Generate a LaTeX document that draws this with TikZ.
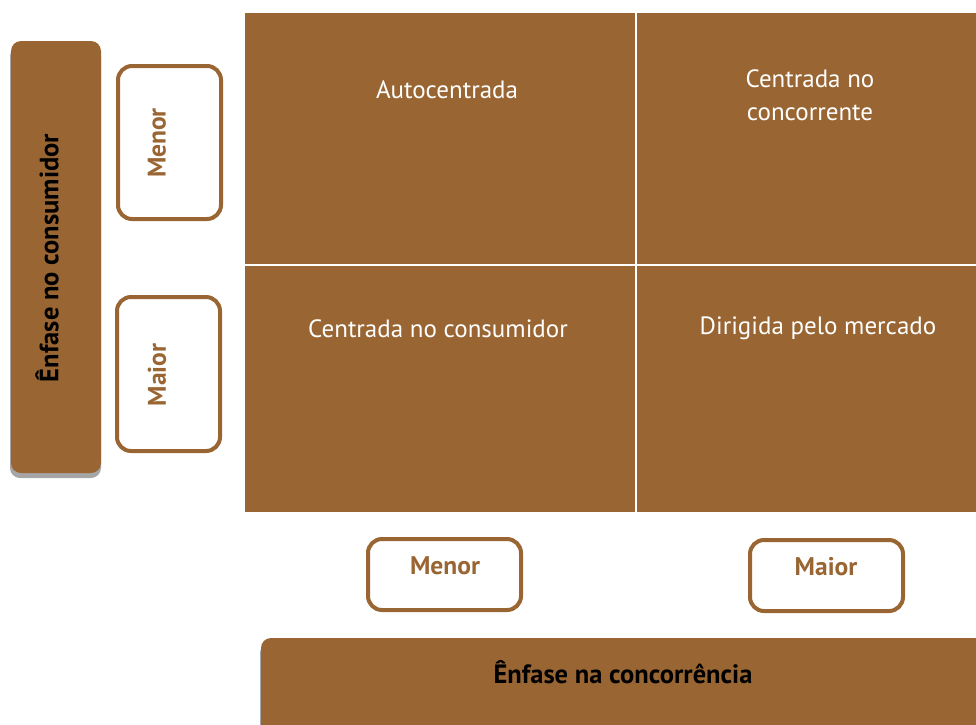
\documentclass[tikz,border=0pt]{standalone}
\usepackage{fontspec}
\setmainfont{PT Sans}
\usepackage{tikz}
\usetikzlibrary{positioning}

\definecolor{brn}{HTML}{996633}
\definecolor{shd}{HTML}{A6A6A6}

\tikzset{
  cell/.style={fill=brn, draw=none, minimum width=391pt, minimum height=252pt, inner sep=0pt},
  celltxt/.style={text=white, align=center, font=\fontsize{25}{33}\selectfont},
  bar/.style={fill=brn, draw=none, rounded corners=10pt},
  barshadow/.style={fill=shd, draw=none, rounded corners=10pt},
  bartxt/.style={text=black, font=\bfseries\fontsize{26.5}{30}\selectfont},
  lvlbox/.style={fill=white, draw=brn, line width=4pt, rounded corners=14pt},
  lvltxt/.style={text=brn, font=\bfseries\fontsize{25.5}{30}\selectfont}
}

\begin{document}
\begin{tikzpicture}[x=1pt,y=-1pt]
\useasboundingbox (0,0) rectangle (976,724);
\clip (0,0) rectangle (976,724);
% quadrants
\node [cell, anchor=north west] (q1) at (245,13) {};
\node [cell, anchor=north west] (q2) at (636,13) {};
\node [cell, anchor=north west, minimum height=247pt] (q3) at (245,265) {};
\node [cell, anchor=north west, minimum height=247pt] (q4) at (636,265) {};
\draw [white, line width=2pt] (q1.north east) -- (q3.south east);
\draw [white, line width=2pt] (q1.south west) -- (q2.south east);
\node [celltxt] (auto) at (447,90) {Autocentrada};
\node [celltxt] (conc) at (810,95) {Centrada no\\concorrente};
\node [celltxt] (cons) at (438,329) {Centrada no consumidor};
\node [celltxt] (merc) at (818,328) {Dirigida pelo mercado};
% vertical axis
\fill [barshadow] (10,46) rectangle (101,478);
\fill [bar] (11,41) rectangle (101,473);
\node [bartxt, rotate=90] (eixoy) at (47,258) {Ênfase no consumidor};
\draw [lvlbox] (118,66) rectangle (221,219);
\node [lvltxt, rotate=90] (ymenor) at (157,143) {Menor};
\draw [lvlbox] (117,297) rectangle (220,451);
\node [lvltxt, rotate=90] (ymaior) at (157,375) {Maior};
% horizontal axis
\draw [lvlbox] (368,539) rectangle (521,610);
\node [lvltxt] (xmenor) at (445,566) {Menor};
\draw [lvlbox] (750,540) rectangle (903,611);
\node [lvltxt] (xmaior) at (826,567) {Maior};
\fill [barshadow] (260,643) rectangle (1000,760);
\fill [bar] (261,638) rectangle (1000,760);
\node [bartxt] (eixox) at (623,672) {Ênfase na concorrência};
\end{tikzpicture}
\end{document}
